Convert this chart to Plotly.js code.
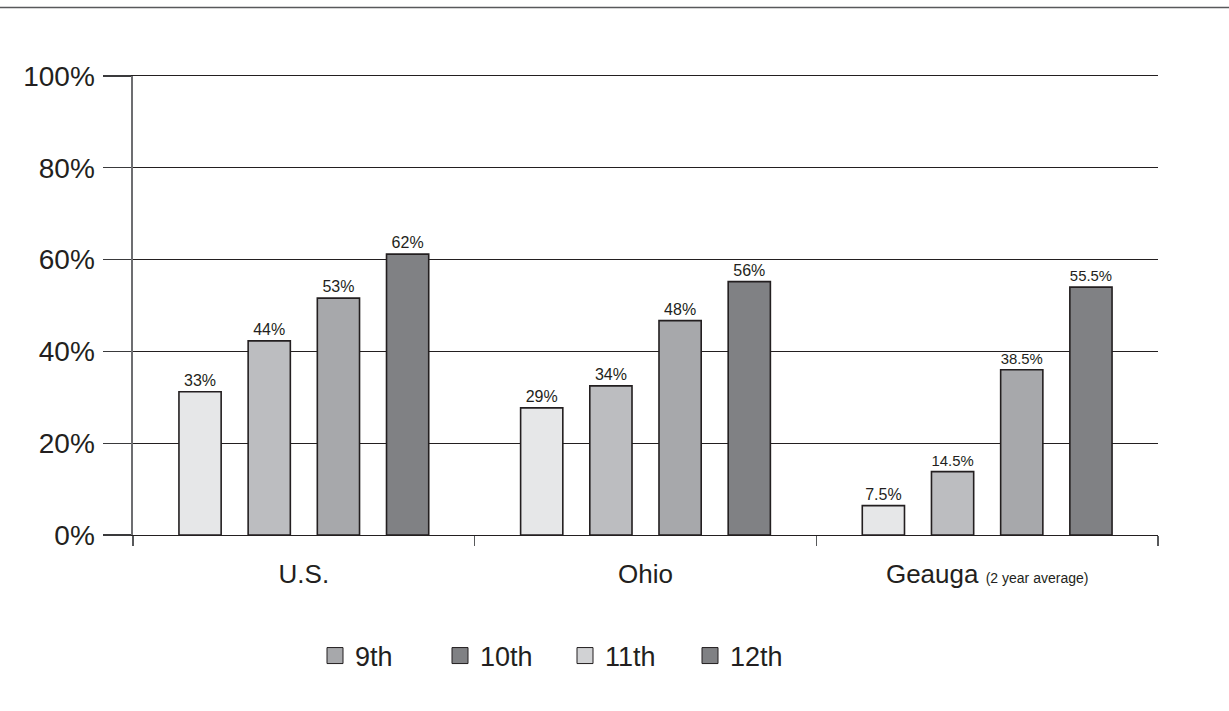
<!DOCTYPE html>
<html>
<head>
<meta charset="utf-8">
<script src="https://cdn.plot.ly/plotly-3.0.1.min.js"></script>
<style>html,body{margin:0;padding:0;background:#fff;}#chart{width:1229px;height:711px;}</style>
</head>
<body>
<div id="chart"></div>
<script>
// ---- data ----
const categories = ["U.S.", "Ohio", "Geauga <span style='font-size:14px'>(2 year average)</span>"];
const seriesNames = ["9th", "10th", "11th", "12th"];
// bar heights as drawn (percent)
const grade9  = [31.2, 27.7, 6.4];
const grade10 = [42.3, 32.5, 13.8];
const grade11 = [51.6, 46.7, 36.0];
const grade12 = [61.2, 55.2, 54.0];
// printed value labels
const labels9  = ["33%", "29%", "7.5%"];
const labels10 = ["44%", "34%", "14.5%"];
const labels11 = ["53%", "48%", "38.5%"];
const labels12 = ["62%", "56%", "55.5%"];
const yTickVals = [0, 20, 40, 60, 80, 100];

// ---- styles ----
const barColors = ["#e6e7e8", "#bcbdc0", "#a7a8ab", "#808184"];
const legendColors = ["#a7a8ab", "#808184", "#d1d2d4", "#808184"];
const ink = "#231f20";
const font = "Liberation Sans, Arial, sans-serif";

const values = [grade9, grade10, grade11, grade12];
const texts = [labels9, labels10, labels11, labels12];

const traces = [];
for (let i = 0; i < 4; i++) {
  traces.push({
    type: "bar",
    name: seriesNames[i],
    x: categories,
    y: values[i],
    text: texts[i],
    textposition: "outside",
    textfont: {family: font, size: 16, color: ink},
    cliponaxis: false,
    marker: {color: barColors[i], line: {color: ink, width: 1.6}},
    showlegend: false,
    hoverinfo: "skip"
  });
}
// legend entries (colours as printed in the original legend)
for (let i = 0; i < 4; i++) {
  traces.push({
    type: "scatter",
    mode: "markers",
    name: seriesNames[i],
    x: [null],
    y: [null],
    marker: {symbol: "square", size: 16, color: legendColors[i], line: {color: ink, width: 1}},
    showlegend: true,
    hoverinfo: "skip"
  });
}

const L = 133, R = 71, T = 76, B = 176;
const W = 1229 - L - R, H = 711 - T - B;

const layout = {
  width: 1229,
  height: 711,
  margin: {l: L, r: R, t: T, b: B, pad: 0},
  paper_bgcolor: "#ffffff",
  plot_bgcolor: "#ffffff",
  font: {family: font, color: ink},
  barmode: "group",
  bargap: 0.19,
  bargroupgap: 0.39,
  showlegend: true,
  legend: {
    orientation: "h",
    x: (565 - L) / W, xanchor: "center",
    y: (T + H - 656) / H, yanchor: "middle",
    font: {family: font, size: 27, color: ink},
    itemsizing: "trace",
    entrywidth: 80,
    entrywidthmode: "pixels"
  },
  xaxis: {
    type: "category",
    tickson: "boundaries",
    ticks: "outside",
    ticklen: 10,
    tickcolor: "#58595b",
    tickwidth: 1.2,
    showgrid: false,
    showline: true,
    mirror: true,
    linecolor: ink,
    linewidth: 1,
    tickfont: {family: font, size: 26, color: ink},
    ticklabelstandoff: 16,
    fixedrange: true
  },
  yaxis: {
    range: [0, 100],
    tickvals: yTickVals,
    ticktext: yTickVals.map(v => v + "%"),
    ticks: "outside",
    ticklen: 28,
    tickcolor: "#3a3a3c",
    tickwidth: 1.2,
    showgrid: true,
    gridcolor: ink,
    gridwidth: 1,
    zeroline: false,
    showline: true,
    linecolor: "#6d6e71",
    linewidth: 1.6,
    tickfont: {family: font, size: 28, color: ink},
    ticklabelstandoff: 3,
    fixedrange: true
  },
  shapes: [{
    type: "line",
    xref: "paper", yref: "paper",
    x0: -L / W, x1: 1 + R / W,
    y0: 1 + (T - 7.5) / H, y1: 1 + (T - 7.5) / H,
    line: {color: "#58595b", width: 1.6}
  }]
};

Plotly.newPlot("chart", traces, layout, {displayModeBar: false, staticPlot: true});
</script>
</body>
</html>
